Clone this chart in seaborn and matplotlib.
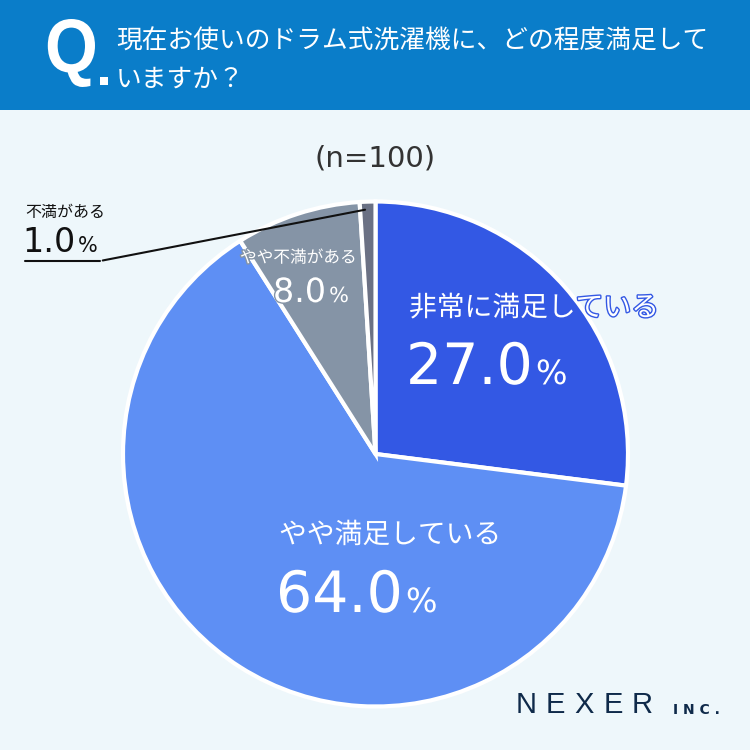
import matplotlib.pyplot as plt
import seaborn as sns
import numpy as np
from matplotlib.patches import Rectangle, PathPatch
from matplotlib.lines import Line2D
from matplotlib.textpath import TextPath
from matplotlib.font_manager import FontProperties
from matplotlib.path import Path
import matplotlib.patheffects as pe

# Survey data
labels = ['非常に満足している', 'やや満足している', 'やや不満がある', '不満がある']
values = [27.0, 64.0, 8.0, 1.0]
colors = ['#3358e4', '#5e8ff4', '#8594a6', '#6b7184']
question = ['現在お使いのドラム式洗濯機に、どの程度満足して', 'いますか？']
sample = '(n=100)'

sns.set_theme(style='white')
plt.rcParams['font.family'] = ['Noto Sans CJK JP', 'DejaVu Sans']

W = 750
fig = plt.figure(figsize=(7.5, 7.5), dpi=100)
fig.patch.set_facecolor('#eef7fb')


def px(x, y):
    # pixel position -> figure fraction
    return x / W, 1 - y / W


# background / header
bg = fig.add_axes([0, 0, 1, 1])
bg.set_xlim(0, W)
bg.set_ylim(W, 0)
bg.axis('off')
bg.add_patch(Rectangle((0, 0), W, 110, color='#0a7dc9', lw=0))

# condensed "Q" squeezed into its box
qp = TextPath((0, 0), 'Q', size=100, prop=FontProperties(family='Liberation Sans', weight='bold'))
v = qp.vertices.copy()
xmin, ymin = v.min(axis=0)
xmax, ymax = v.max(axis=0)
v[:, 0] = 45 + (v[:, 0] - xmin) / (xmax - xmin) * 50
v[:, 1] = 87 - (v[:, 1] - ymin) / (ymax - ymin) * 68
bg.add_patch(PathPatch(Path(v, qp.codes), color='white', lw=0))
bg.add_patch(Rectangle((100, 77), 8, 8, color='white', lw=0))

bg.text(116, 42, question[0], color='white', fontsize=18.5, va='center', ha='left')
bg.text(116, 80, question[1], color='white', fontsize=18.5, va='center', ha='left')
bg.text(375, 158, sample, color='#333333', fontsize=21, va='center', ha='center',
        family='DejaVu Sans')

# pie
cx, cy, r = 375.5, 454, 252.5
pie_ax = fig.add_axes([(cx - r) / W, 1 - (cy + r) / W, 2 * r / W, 2 * r / W])
pie_ax.pie(values, colors=colors, startangle=90, counterclock=False, radius=1,
           wedgeprops=dict(edgecolor='white', linewidth=3))
pie_ax.set_xlim(-1, 1)
pie_ax.set_ylim(-1, 1)
pie_ax.set_aspect('equal')
pie_ax.axis('off')

num_font = 'DejaVu Sans'


def label(x, y, name, val, name_size, num_size, pct_size, color, stroke, dy, nx=None):
    fx, fy = px(x, y)
    eff = [pe.withStroke(linewidth=2, foreground=stroke)] if stroke else None
    fig.text(fx, fy, name, fontsize=name_size, color=color, va='center', ha='left',
             path_effects=eff)
    fx2, fy2 = px((nx if nx is not None else x) - 3, y + dy)
    t = fig.text(fx2, fy2, f'{val:.1f}', fontsize=num_size, color=color,
                 va='baseline', ha='left', family=num_font, path_effects=eff)
    fig.canvas.draw()
    bb = t.get_window_extent()
    fig.text((bb.x1 + 3) / W, fy2, '%', fontsize=pct_size, color=color,
             va='baseline', ha='left', family=num_font, path_effects=eff)


label(409, 308, labels[0], values[0], 20, 41, 24, 'white', colors[0], 76)
label(279, 535, labels[1], values[1], 20, 41, 24, 'white', colors[1], 77)
label(240, 258, labels[2], values[2], 12, 24, 15, 'white', colors[2], 44, nx=276)
label(25, 212, labels[3], values[3], 11.5, 24, 15, '#111111', None, 40)

# leader line for the 1% slice
ang = np.deg2rad(90 - 360 * (sum(values[:3]) + values[3] / 2) / sum(values))
pie_ax.annotate('', xy=(0.97 * np.cos(ang), 0.97 * np.sin(ang)),
                xytext=px(100, 261), textcoords='figure fraction',
                arrowprops=dict(arrowstyle='-', lw=1.5, color='#111111'),
                annotation_clip=False)
x0, y0 = px(25, 261)
x1, y1 = px(100, 261)
fig.add_artist(Line2D([x0, x1], [y0, y1], transform=fig.transFigure,
                      color='#111111', lw=1.5))

# logo
for i, ch in enumerate('NEXER'):
    fx, fy = px(526 + i * 29, 705)
    fig.text(fx, fy, ch, fontsize=21, color='#0f2a4a', ha='center', va='center',
             family='Liberation Sans')
fx, fy = px(673, 710)
fig.text(fx, fy, 'I N C .', fontsize=10, color='#0f2a4a', ha='left', va='center',
         family='DejaVu Sans', fontweight='bold')

fig.savefig('out.png', dpi=100, facecolor=fig.get_facecolor())
